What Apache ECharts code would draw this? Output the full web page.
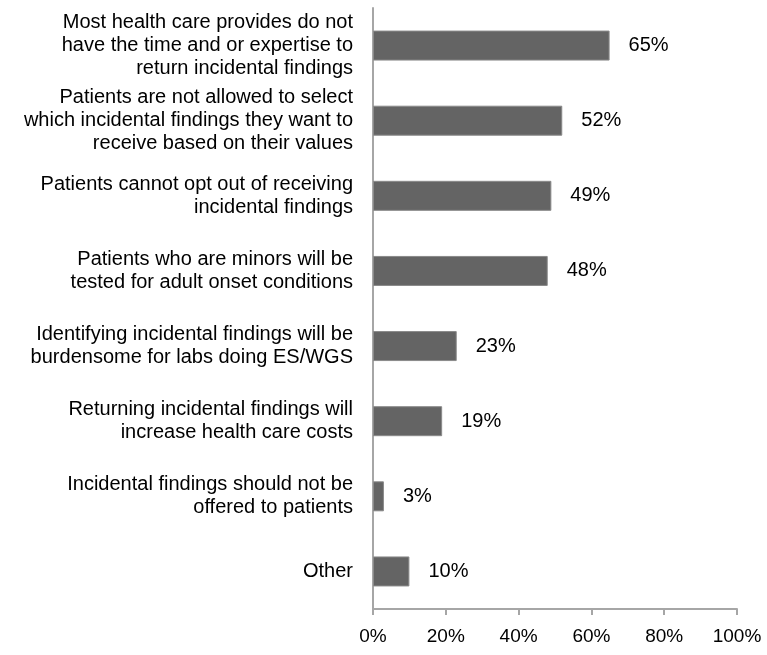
<!DOCTYPE html>
<html>
<head>
<meta charset="utf-8">
<script src="https://cdn.jsdelivr.net/npm/echarts@6/dist/echarts.min.js"></script>
<style>
  html, body { margin: 0; padding: 0; background: #fff; }
  #chart { width: 767px; height: 655px; }
</style>
</head>
<body>
<div id="chart"></div>
<script>
// Reasons given, top to bottom
const categories = [
  'Most health care provides do not\nhave the time and or expertise to\nreturn incidental findings',
  'Patients are not allowed to select\nwhich incidental findings they want to\nreceive based on their values',
  'Patients cannot opt out of receiving\nincidental findings',
  'Patients who are minors will be\ntested for adult onset conditions',
  'Identifying incidental findings will be\nburdensome for labs doing ES/WGS',
  'Returning incidental findings will\nincrease health care costs',
  'Incidental findings should not be\noffered to patients',
  'Other'
];
// Share of respondents (%)
const percentages = [65, 52, 49, 48, 23, 19, 3, 10];
// Horizontal axis ticks (%)
const axisTicks = [0, 20, 40, 60, 80, 100];

const font = 'Liberation Sans, Arial, sans-serif';
const chart = echarts.init(document.getElementById('chart'));
chart.setOption({
  animation: false,
  grid: { left: 373, right: 30, top: 8, bottom: 46, containLabel: false },
  xAxis: {
    type: 'value',
    min: axisTicks[0],
    max: axisTicks[axisTicks.length - 1],
    interval: axisTicks[1] - axisTicks[0],
    axisLine: { show: true, lineStyle: { color: '#a6a6a6', width: 2 } },
    axisTick: { show: true, length: 6, lineStyle: { color: '#a6a6a6', width: 2 } },
    splitLine: { show: false },
    axisLabel: {
      formatter: v => v + '%',
      color: '#000', fontFamily: font, fontSize: 19, margin: 18
    }
  },
  yAxis: {
    type: 'category',
    data: categories,
    inverse: true,
    axisLine: { show: true, lineStyle: { color: '#a6a6a6', width: 2 } },
    axisTick: { show: false },
    axisLabel: {
      color: '#000', fontFamily: font, fontSize: 20, lineHeight: 23,
      margin: 20, align: 'right'
    }
  },
  series: [{
    type: 'bar',
    data: percentages,
    barWidth: 30,
    itemStyle: { color: '#646464', borderColor: '#8a8a8a', borderWidth: 1 },
    label: {
      show: true, position: 'right', distance: 19,
      formatter: p => p.value + '%',
      color: '#000', fontFamily: font, fontSize: 20
    }
  }]
});
</script>
</body>
</html>
